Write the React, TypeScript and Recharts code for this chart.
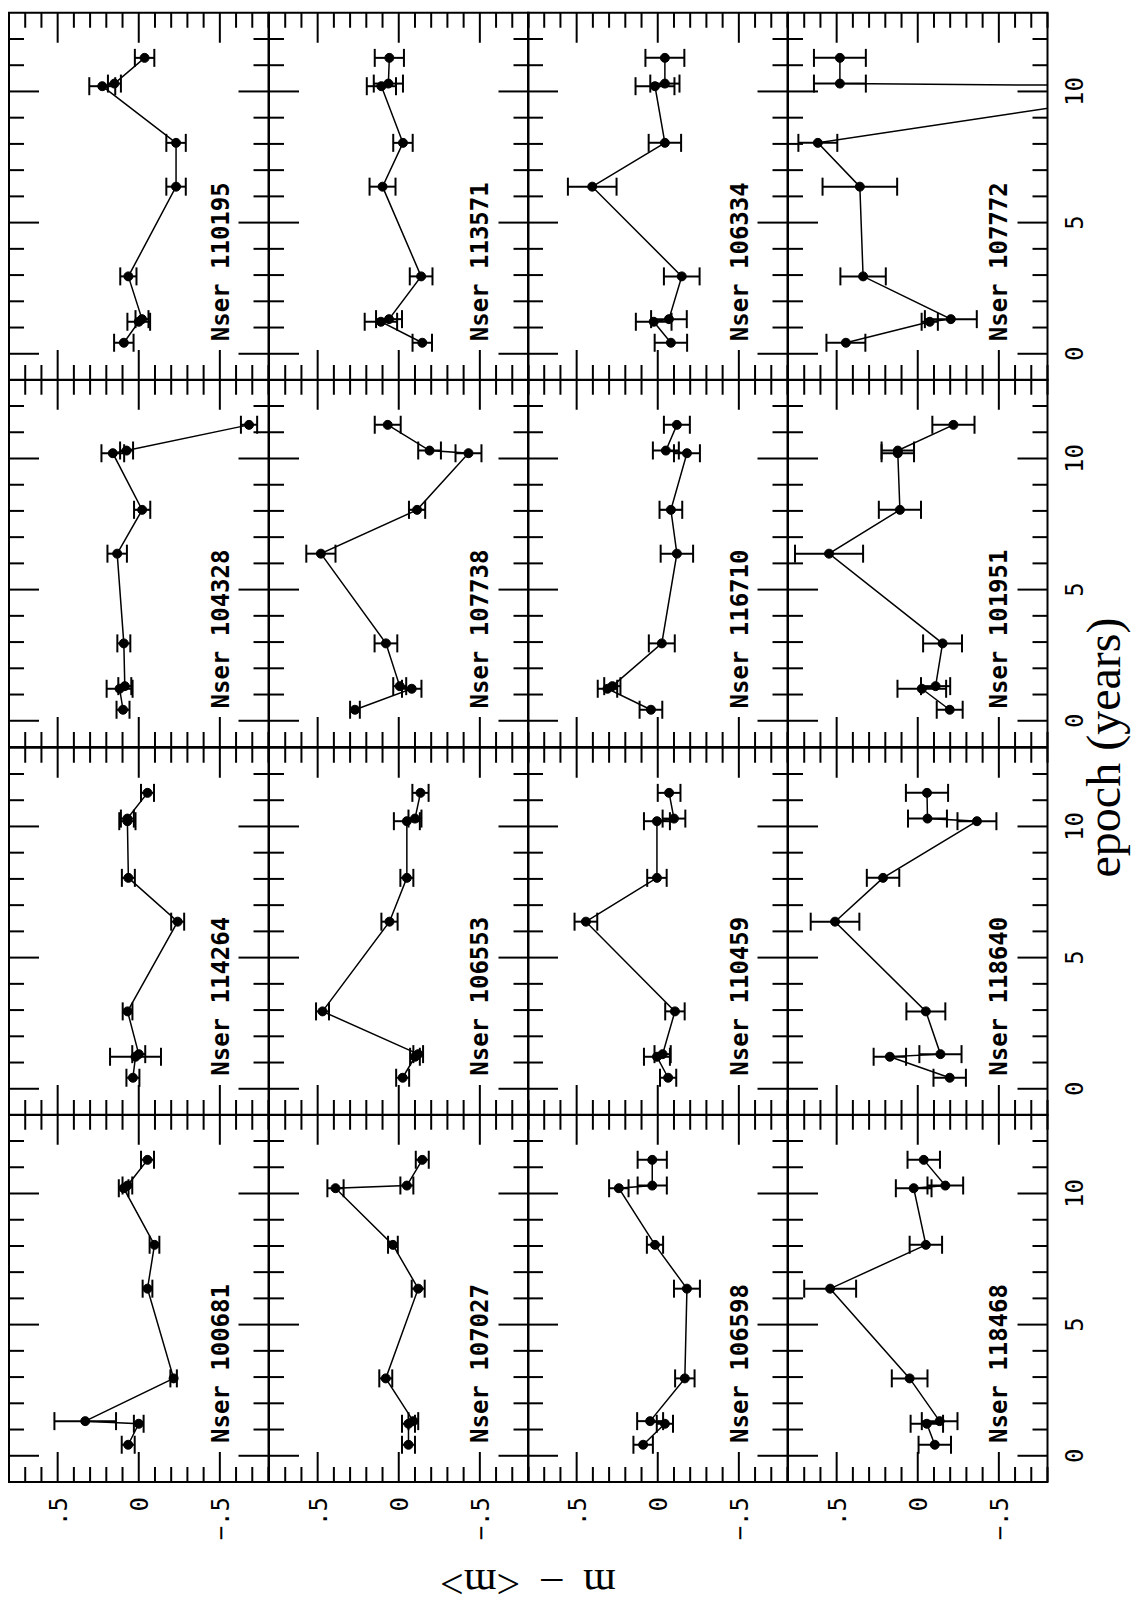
import React from 'react';
import { LineChart, Line, XAxis, YAxis, ErrorBar, ReferenceArea } from 'recharts';

// epochs (years) shared by every star
const epochs = [0.42, 1.22, 1.32, 2.95, 6.37, 8.04, 10.2, 10.3, 11.28];

// m - <m> per star, and the error on each point
const mag100681 = [0.065, 0.0, 0.33, -0.215, -0.054, -0.097, 0.093, 0.07, -0.054];
const err100681 = [0.04, 0.03, 0.19, 0.02, 0.03, 0.03, 0.03, 0.03, 0.04];
const mag114264 = [0.036, 0.02, 0.0, 0.069, -0.24, 0.064, 0.07, 0.07, -0.054];
const err114264 = [0.04, 0.157, 0.04, 0.03, 0.04, 0.04, 0.05, 0.04, 0.04];
const mag104328 = [0.097, 0.118, 0.086, 0.092, 0.133, -0.021, 0.16, 0.075, -0.68];
const err104328 = [0.04, 0.08, 0.04, 0.04, 0.06, 0.05, 0.07, 0.04, 0.05];
const mag110195 = [0.092, 0.0, -0.02, 0.064, -0.23, -0.23, 0.225, 0.15, -0.036];
const err110195 = [0.06, 0.07, 0.04, 0.05, 0.06, 0.06, 0.08, 0.04, 0.06];

const mag107027 = [-0.06, -0.06, -0.09, 0.08, -0.12, 0.036, 0.39, -0.05, -0.145];
const err107027 = [0.04, 0.04, 0.03, 0.04, 0.04, 0.03, 0.05, 0.04, 0.04];
const mag106553 = [-0.024, -0.1, -0.12, 0.47, 0.057, -0.05, -0.05, -0.1, -0.134];
const err106553 = [0.04, 0.03, 0.03, 0.04, 0.05, 0.04, 0.08, 0.04, 0.05];
const mag107738 = [0.27, -0.08, -0.006, 0.079, 0.48, -0.113, -0.43, -0.19, 0.068];
const err107738 = [0.03, 0.06, 0.04, 0.07, 0.09, 0.05, 0.08, 0.07, 0.08];
const mag113571 = [-0.145, 0.11, 0.06, -0.138, 0.1, -0.026, 0.107, 0.064, 0.058];
const err113571 = [0.06, 0.1, 0.08, 0.07, 0.08, 0.06, 0.09, 0.09, 0.09];

const mag106598 = [0.09, -0.044, 0.047, -0.167, -0.18, 0.017, 0.24, 0.034, 0.034];
const err106598 = [0.06, 0.05, 0.08, 0.06, 0.08, 0.05, 0.06, 0.09, 0.09];
const mag110459 = [-0.064, 0.005, -0.03, -0.106, 0.443, 0.005, 0.005, -0.1, -0.07];
const err110459 = [0.05, 0.08, 0.05, 0.06, 0.07, 0.06, 0.08, 0.07, 0.07];
const mag116710 = [0.042, 0.31, 0.28, -0.025, -0.118, -0.081, -0.18, -0.05, -0.118];
const err116710 = [0.07, 0.06, 0.05, 0.08, 0.1, 0.07, 0.08, 0.08, 0.08];
const mag106334 = [-0.081, 0.025, -0.069, -0.148, 0.404, -0.044, 0.017, -0.044, -0.044];
const err106334 = [0.1, 0.11, 0.11, 0.11, 0.15, 0.1, 0.12, 0.09, 0.12];

const mag118468 = [-0.105, -0.056, -0.135, 0.05, 0.54, -0.05, 0.025, -0.17, -0.037];
const err118468 = [0.1, 0.1, 0.11, 0.11, 0.16, 0.1, 0.11, 0.11, 0.1];
const mag118640 = [-0.197, 0.172, -0.14, -0.05, 0.51, 0.214, -0.365, -0.06, -0.057];
const err118640 = [0.1, 0.1, 0.13, 0.12, 0.15, 0.1, 0.12, 0.12, 0.13];
const mag101951 = [-0.197, -0.025, -0.11, -0.153, 0.547, 0.11, 0.123, 0.123, -0.22];
const err101951 = [0.08, 0.15, 0.09, 0.12, 0.21, 0.13, 0.1, 0.1, 0.13];
const mag107772 = [0.443, -0.074, -0.204, 0.337, 0.357, 0.616, -1.7, 0.48, 0.48];
const err107772 = [0.12, 0.05, 0.16, 0.14, 0.23, 0.12, 0.3, 0.16, 0.16];

// panels in reading order (4 rows x 4 columns before the page is turned)
const panels = [
  { name: '100681', mag: mag100681, err: err100681 },
  { name: '114264', mag: mag114264, err: err114264 },
  { name: '104328', mag: mag104328, err: err104328 },
  { name: '110195', mag: mag110195, err: err110195 },
  { name: '107027', mag: mag107027, err: err107027 },
  { name: '106553', mag: mag106553, err: err106553 },
  { name: '107738', mag: mag107738, err: err107738 },
  { name: '113571', mag: mag113571, err: err113571 },
  { name: '106598', mag: mag106598, err: err106598 },
  { name: '110459', mag: mag110459, err: err110459 },
  { name: '116710', mag: mag116710, err: err116710 },
  { name: '106334', mag: mag106334, err: err106334 },
  { name: '118468', mag: mag118468, err: err118468 },
  { name: '118640', mag: mag118640, err: err118640 },
  { name: '101951', mag: mag101951, err: err101951 },
  { name: '107772', mag: mag107772, err: err107772 },
];

const epochTicks = [-1, 0, 1, 2, 3, 4, 5, 6, 7, 8, 9, 10, 11, 12];
const epochMajor = [0, 5, 10];
const magTicks = [-0.8, -0.7, -0.6, -0.5, -0.4, -0.3, -0.2, -0.1, 0, 0.1, 0.2, 0.3, 0.4, 0.5, 0.6, 0.7, 0.8];
const magMajor = [0.5, 0, -0.5];
const magLabels = ['.5', '0', '\u2212.5'];

// layout of the (unrotated) figure
const FIG_W = 1606;
const FIG_H = 1134;
const GRID_LEFT = 124;
const GRID_TOP = 9;
const PW = 367.25;
const PH = 259.5;
const PAD = 70;
const MINOR = 15;
const MAJOR = 30;
const MONO = '"DejaVu Sans Mono", "Liberation Mono", monospace';
const SERIF = '"Liberation Serif", "DejaVu Serif", serif';

const majorMagIndex = (v: number) => magMajor.findIndex((m) => Math.abs(m - v) < 1e-6);

const tickStyle = { stroke: '#000', strokeWidth: 2 };

// epoch ticks: drawn inward on the bottom edge and mirrored on the top edge
const epochTick = (p: any, withLabel: boolean) => {
  const { x, y, payload } = p;
  const major = epochMajor.includes(payload.value);
  const len = major ? MAJOR : MINOR;
  const top = y - PH;
  return (
    <g>
      <line x1={x} y1={y} x2={x} y2={y - len} {...tickStyle} />
      <line x1={x} y1={top} x2={x} y2={top + len} {...tickStyle} />
      {withLabel && major && (
        <text x={x} y={y + 35} textAnchor="middle" fontFamily={MONO} fontSize={24} fill="#000">
          {payload.value}
        </text>
      )}
    </g>
  );
};

// m - <m> ticks: drawn inward on the left edge and mirrored on the right edge
const magTick = (p: any, withLabel: boolean) => {
  const { x, y, payload } = p;
  const idx = majorMagIndex(payload.value);
  const len = idx >= 0 ? MAJOR : MINOR;
  const right = x + PW;
  return (
    <g>
      <line x1={x} y1={y} x2={x + len} y2={y} {...tickStyle} />
      <line x1={right} y1={y} x2={right - len} y2={y} {...tickStyle} />
      {withLabel && idx >= 0 && (
        <text x={x - 15} y={y + 9} textAnchor="end" fontFamily={MONO} fontSize={24} fill="#000">
          {magLabels[idx]}
        </text>
      )}
    </g>
  );
};

function Panel({ row, col, mag, err }: { row: number; col: number; mag: number[]; err: number[] }) {
  const data = epochs.map((t, i) => ({ t, m: mag[i], e: err[i] }));
  const showEpoch = row === 3;
  const showMag = col === 0;
  return (
    <div style={{ position: 'absolute', left: GRID_LEFT + col * PW - PAD, top: GRID_TOP + row * PH - PAD }}>
      <LineChart
        width={PW + 2 * PAD}
        height={PH + 2 * PAD}
        data={data}
        margin={{ top: PAD, right: PAD, bottom: PAD - 1, left: PAD - 1 }}
      >
        <XAxis
          dataKey="t"
          type="number"
          domain={[-1, 13]}
          allowDataOverflow
          ticks={epochTicks}
          interval={0}
          height={1}
          tickSize={0}
          tickMargin={0}
          tickLine={false}
          axisLine={false}
          tick={(p: any) => epochTick(p, showEpoch)}
        />
        <YAxis
          type="number"
          domain={[-0.8, 0.8]}
          allowDataOverflow
          ticks={magTicks}
          interval={0}
          width={1}
          tickSize={0}
          tickMargin={0}
          tickLine={false}
          axisLine={false}
          tick={(p: any) => magTick(p, showMag)}
        />
        <ReferenceArea x1={-1} x2={13} y1={-0.8} y2={0.8} fill="none" fillOpacity={0} stroke="#000" strokeWidth={2} />
        <Line
          dataKey="m"
          stroke="#000"
          strokeWidth={1.5}
          dot={{ r: 4.5, fill: '#000', stroke: '#000', strokeWidth: 1 }}
          activeDot={false}
          isAnimationActive={false}
        >
          <ErrorBar dataKey="e" direction="y" width={9} strokeWidth={2} stroke="#000" />
        </Line>
      </LineChart>
    </div>
  );
}

export default function App() {
  const midY = GRID_TOP + 2 * PH;
  return (
    <div style={{ position: 'absolute', left: 0, top: 0, width: 1134, height: 1606, overflow: 'hidden', background: '#fff' }}>
      <div
        style={{
          position: 'absolute',
          left: 0,
          top: 0,
          width: FIG_W,
          height: FIG_H,
          transformOrigin: '0 0',
          transform: `translate(0px, ${FIG_W}px) rotate(-90deg)`,
        }}
      >
        {panels.map((p, i) => (
          <Panel key={p.name} row={Math.floor(i / 4)} col={i % 4} mag={p.mag} err={p.err} />
        ))}
        <svg
          width={FIG_W}
          height={FIG_H}
          style={{ position: 'absolute', left: 0, top: 0, pointerEvents: 'none' }}
        >
          {panels.map((p, i) => {
            const row = Math.floor(i / 4);
            const col = i % 4;
            return (
              <text
                key={p.name}
                x={GRID_LEFT + col * PW + 39}
                y={GRID_TOP + (row + 1) * PH - 40}
                fontFamily={MONO}
                fontWeight="bold"
                fontSize={24}
                fill="#000"
              >
                {`Nser ${p.name}`}
              </text>
            );
          })}
          <text x={GRID_LEFT + 2 * PW} y={1120} textAnchor="middle" fontFamily={SERIF} fontSize={48} fill="#000">
            epoch (years)
          </text>
          <text
            x={36}
            y={midY}
            transform={`rotate(-90 36 ${midY})`}
            textAnchor="middle"
            fontFamily={SERIF}
            fontSize={42}
            fill="#000"
            style={{ whiteSpace: 'pre' }}
          >
            {'m  \u2013  <m>'}
          </text>
        </svg>
      </div>
    </div>
  );
}
